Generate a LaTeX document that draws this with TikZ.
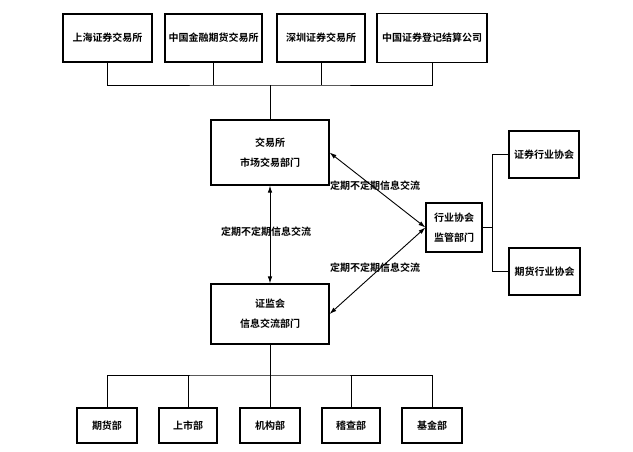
\documentclass[tikz,border=0pt]{standalone}
\usepackage{fontspec}
\setmainfont{Noto Sans CJK SC}[BoldFont={Noto Sans CJK SC Bold}]
\usetikzlibrary{arrows.meta,positioning}

\begin{document}
\begin{tikzpicture}[x=1pt, y=-1pt, >={Latex[length=7pt,width=4.5pt]},
  font=\fontsize{10}{20}\selectfont\bfseries,
  box/.style={draw, line width=1.1pt, inner sep=0pt, align=center},
  link/.style={line width=0.9pt},
  lbl/.style={inner sep=1pt}]
  \useasboundingbox (0,0) rectangle (633,451);

  % sources of information
  \node[box, minimum width=89, minimum height=48]  (sse)   at (107.5,38) {上海证券交易所};
  \node[box, minimum width=97, minimum height=48]  (cffex) at (213.5,38) {中国金融期货交易所};
  \node[box, minimum width=88, minimum height=48]  (szse)  at (321,38)   {深圳证券交易所};
  \node[box, minimum width=110, minimum height=49] (csdc)  at (432,38)   {中国证券登记结算公司};
  \coordinate (bus) at (270,85);

  % the two centres and the associations
  \node[box, minimum width=118, minimum height=65] (ex)    at (270,152.5) {交易所\\市场交易部门};
  \node[box, minimum width=118, minimum height=60] (csrc)  at (270,314)   {证监会\\信息交流部门};
  \node[box, minimum width=56, minimum height=49]  (assoc) at (454,227.5) {行业协会\\监管部门};
  \node[box, minimum width=70, minimum height=47]  (sac)   at (544,154.5) {证券行业协会};
  \node[box, minimum width=71, minimum height=47]  (cfa)   at (544.5,271.5) {期货行业协会};
  \coordinate (rbus) at (492,227.5);

  % departments
  \node[box, minimum width=60, minimum height=35] (fut)  at (107,425.5) {期货部};
  \node[box, minimum width=58, minimum height=35] (lst)  at (188,425.5) {上市部};
  \node[box, minimum width=60, minimum height=35] (inst) at (270,425.5) {机构部};
  \node[box, minimum width=58, minimum height=35] (insp) at (351,425.5) {稽查部};
  \node[box, minimum width=60, minimum height=35] (fund) at (432,425.5) {基金部};
  \coordinate (lbus) at (270,375);

  \draw[link] (sse.south) |- (bus) -| (csdc.south);
  \draw[link] (cffex.south) -- (cffex.south |- bus);
  \draw[link] (szse.south) -- (szse.south |- bus);
  \draw[link] (bus) -- (ex.north);

  \draw[link] (fut.north) |- (lbus) -| (fund.north);
  \draw[link] (lst.north) -- (lst.north |- lbus);
  \draw[link] (insp.north) -- (insp.north |- lbus);
  \draw[link] (csrc.south) -- (inst.north);

  \draw[link] (assoc.east) -- (rbus);
  \draw[link] (sac.west) -| (rbus);
  \draw[link] (cfa.west) -| (rbus);

  \draw[link, <->] (ex.south) -- (csrc.north);
  \draw[link, <->] (ex.east) -- (assoc.west);
  \draw[link, <->] (csrc.east) -- (assoc.west);

  \node[lbl] (mid)   at (266,232) {定期不定期信息交流};
  \node[lbl] (upper) at (375,186) {定期不定期信息交流};
  \node[lbl] (lower) at (375,268) {定期不定期信息交流};
\end{tikzpicture}
\end{document}
